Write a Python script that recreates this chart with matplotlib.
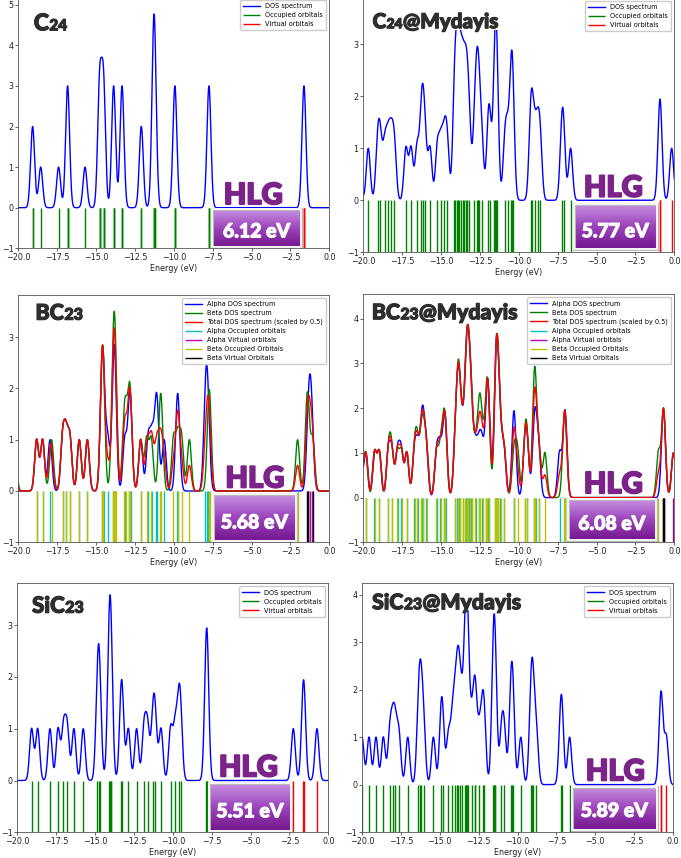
import numpy as np
import matplotlib
matplotlib.use("Agg")
import matplotlib.pyplot as plt
import matplotlib.patheffects as pe
from matplotlib.colors import LinearSegmentedColormap
from matplotlib.patches import Rectangle
from matplotlib.transforms import offset_copy

# orbital energies (eV); degenerate levels repeated
c24_occ = [-19.08, -19.08, -18.56, -17.41, -16.83, -16.83, -16.83, -15.71,
           -14.77, -14.77, -14.77, -14.52, -14.52, -14.52, -13.87, -13.87, -13.87,
           -13.33, -13.33, -13.33, -12.09, -12.09, -11.30, -11.30, -11.30,
           -11.22, -11.22, -9.93, -9.93, -9.93, -7.74, -7.74, -7.74]
c24_vir = [-1.63, -1.63, -1.63]

c24m_occ = [-20.30, -19.68, -19.08, -18.90, -18.62, -18.40, -18.20, -18.00,
            -17.26, -16.93, -16.55, -16.28, -16.18, -16.03, -15.71, -15.24,
            -15.00, -14.78, -14.60, -14.15, -14.10, -13.98, -13.90, -13.82,
            -13.70, -13.62, -13.50, -13.40, -13.30, -13.18, -12.86, -12.72,
            -12.65, -12.55, -12.38, -11.97, -11.86, -11.57, -11.50, -11.45,
            -11.40, -10.90, -10.72, -10.50, -10.44, -10.38, -9.24, -9.16,
            -8.97, -8.78, -8.62, -7.24, -7.12, -6.67]
c24m_vir = [-0.95, -0.89, -0.17]

bc_a_occ = [-18.82, -18.44, -17.96, -17.15, -16.93, -16.68, -16.08, -15.56,
            -14.64, -14.58, -14.52, -14.25, -13.88, -13.83, -13.78, -13.15,
            -12.86, -12.78, -12.13, -11.65, -11.40, -11.15, -11.05, -10.62,
            -9.79, -9.71, -7.99, -7.89, -7.79]
bc_a_vir = [-1.36, -1.24, -1.12]
bc_b_occ = [-20.24, -18.82, -18.44, -17.86, -17.15, -16.93, -16.68, -16.08,
            -15.56, -14.63, -14.58, -14.53, -13.92, -13.86, -13.80, -13.74,
            -13.21, -13.07, -12.85, -12.79, -12.13, -11.75, -11.45, -10.88,
            -10.80, -10.02, -9.75, -9.50, -9.00, -7.74, -7.70, -2.04]
bc_b_vir = [-1.45, -1.37, -1.07]

bcm_a_occ = [-20.20, -19.83, -19.28, -18.98, -18.40, -18.16, -17.80, -17.56,
             -17.21, -16.72, -16.50, -16.25, -16.15, -15.95, -15.28, -15.05,
             -14.80, -14.70, -14.08, -13.95, -13.86, -13.78, -13.60, -13.42,
             -13.34, -13.28, -13.22, -13.10, -13.02, -12.78, -12.55, -12.35,
             -12.08, -12.00, -11.92, -11.52, -11.46, -11.40, -11.34, -11.18,
             -10.95, -10.34, -10.28, -9.62, -9.45, -9.02, -8.92, -8.72,
             -7.38, -7.06, -7.00]
bcm_a_vir = [-0.72, -0.68, -0.06]
bcm_b_occ = [-20.18, -19.85, -19.26, -18.96, -18.38, -18.18, -17.82, -17.54,
             -17.19, -16.70, -16.52, -16.27, -16.13, -15.93, -15.30, -15.03,
             -14.82, -14.72, -14.10, -13.93, -13.88, -13.80, -13.62, -13.44,
             -13.36, -13.30, -13.24, -13.12, -13.04, -12.80, -12.57, -12.50,
             -12.33, -12.10, -12.02, -11.94, -11.50, -11.44, -11.38, -11.32,
             -11.16, -10.93, -10.31, -10.08, -9.60, -9.47, -9.04, -8.97,
             -8.94, -8.70, -8.32, -7.08, -7.02, -1.02]
bcm_b_vir = [-0.71, -0.67, -0.05]

sic_occ = [-19.08, -18.69, -17.90, -17.38, -17.03, -16.79, -16.36, -15.76,
           -14.85, -14.77, -14.69, -14.12, -14.06, -14.00, -13.96, -13.32,
           -13.26, -12.86, -12.33, -11.85, -11.62, -11.28, -11.13, -10.76,
           -10.14, -9.85, -9.62, -9.50, -7.85, -7.82, -7.79]
sic_vir = [-2.25, -1.62, -1.56, -0.73]

sicm_occ = [-20.00, -19.55, -19.10, -18.63, -18.22, -18.02, -17.85, -17.62,
            -17.06, -16.38, -16.28, -16.18, -16.03, -15.41, -14.92, -14.82,
            -14.45, -14.20, -14.05, -13.90, -13.82, -13.72, -13.58, -13.40,
            -13.32, -13.28, -13.24, -13.16, -12.95, -12.75, -12.71, -12.45,
            -12.24, -12.14, -11.58, -11.52, -11.47, -11.42, -11.03, -10.85,
            -10.45, -10.36, -10.28, -9.79, -9.15, -9.07, -8.98, -8.78,
            -7.22, -7.14, -6.65]
sicm_vir = [-0.80, -0.74, -0.43]

gaps = ["6.12 eV", "5.77 eV", "5.68 eV", "6.08 eV", "5.51 eV", "5.89 eV"]

FWHM = 0.3
energy = np.linspace(-20, 0, 2001)


def dos(levels):
    # gaussian broadening as GaussSum does it, one unit-height peak per orbital
    sigma = FWHM / (2 * np.sqrt(2 * np.log(2)))
    e = np.asarray(levels)[:, None]
    return np.exp(-(energy - e) ** 2 / (2 * sigma ** 2)).sum(axis=0)


W, H = 681, 858
fig = plt.figure(figsize=(W / 100, H / 100), dpi=100)
renderer = fig.canvas.get_renderer()
purple = LinearSegmentedColormap.from_list("hlg", ["#74168f", "#9c45bb", "#c892e2"])
TXT = 5.8
HEAVY = "Lato"


def fat(color, w=0.9):
    # thicken Lato Bold towards the heavy poster font
    return [pe.withStroke(linewidth=w, foreground=color)]


def make_ax(left, right, bottom, unit, ytop):
    top = bottom - (ytop + 1) * unit
    ax = fig.add_axes([left / W, 1 - bottom / H, (right - left) / W, (bottom - top) / H])
    ax.set_xlim(-20, 0)
    ax.set_ylim(-1, ytop)
    ax.set_xticks(np.arange(-20, 0.1, 2.5))
    ax.set_yticks(range(-1, int(ytop) + 1))
    ax.tick_params(labelsize=TXT, length=2, width=0.5, pad=1.5, colors="#222222")
    for s in ax.spines.values():
        s.set_linewidth(0.6)
        s.set_color("#555555")
    ax.set_xlabel("Energy (eV)", fontsize=TXT, labelpad=1.5, color="#222222")
    return ax


def closed(ax, occ, vir):
    ax.plot(energy, dos(occ + vir), color="b", lw=1.0, label="DOS spectrum")
    ax.vlines(occ, -1, 0, colors="g", lw=1.0, label="Occupied orbitals")
    ax.vlines(vir, -1, 0, colors="r", lw=1.0, label="Virtual orbitals")


def opened(ax, a_occ, a_vir, b_occ, b_vir):
    da = dos(a_occ + a_vir)
    db = dos(b_occ + b_vir)
    ax.plot(energy, da, color="b", lw=1.0, label="Alpha DOS spectrum")
    ax.plot(energy, db, color="g", lw=1.0, label="Beta DOS spectrum")
    ax.plot(energy, 0.5 * (da + db), color="r", lw=1.0,
            label="Total DOS spectrum (scaled by 0.5)")
    ax.vlines(a_occ, -1, 0, colors="c", lw=1.0, label="Alpha Occupied orbitals")
    ax.vlines(a_vir, -1, 0, colors="m", lw=1.0, label="Alpha Virtual orbitals")
    ax.vlines(b_occ, -1, 0, colors="y", lw=1.0, label="Beta Occupied Orbitals")
    ax.vlines(b_vir, -1, 0, colors="k", lw=1.0, label="Beta Virtual Orbitals")


def title(ax, x, y, parts, cover=None):
    # white patch behind the name hides the curve, as in the pasted figure
    if cover is not None:
        x0, x1, yc = cover
        ax.add_patch(Rectangle((x0, yc), x1 - x0, 10, fc="white", ec="none", zorder=2.2))
    dx = 0
    for s, size in parts:
        t = ax.text(x, y, s, fontsize=size, fontweight="black", family=HEAVY,
                    color="#2e2e2e", va="baseline", ha="left", zorder=6,
                    path_effects=fat("#2e2e2e"),
                    transform=offset_copy(ax.transData, fig=fig, x=dx, y=0, units="dots"))
        dx += t.get_window_extent(renderer).width + 0.5


def hlg(ax, box, hx, hy, ty, gap):
    x0, x1, y0, y1 = box
    grad = np.linspace(0, 1, 100)[:, None]
    ax.imshow(grad, extent=[x0, x1, y0, y1], origin="lower", cmap=purple,
              aspect="auto", zorder=4)
    ax.add_patch(Rectangle((x0, y0), x1 - x0, y1 - y0, fill=False, ec="#b8b8b8",
                           lw=2.2, zorder=4.4))
    ax.add_patch(Rectangle((x0, y0), x1 - x0, y1 - y0, fill=False, ec="white",
                           lw=1.2, zorder=4.5))
    ax.text(hx, hy, "HLG", fontsize=21, fontweight="black", family=HEAVY,
            color="#7b2389", ha="center", va="baseline", zorder=6,
            path_effects=fat("#7b2389", 1.4))
    ax.text((x0 + x1) / 2, ty, gap, fontsize=14, fontweight="black", family=HEAVY,
            color="white", ha="center", va="baseline", zorder=6,
            path_effects=fat("white", 0.8))
    ax.set_xlim(-20, 0)


leg = dict(loc="upper right", fontsize=4.7, handlelength=2.5, borderpad=0.5,
           labelspacing=0.45, handletextpad=0.8, framealpha=1)

# C24
ax = make_ax(18.3, 329.3, 248.3, 40.6, 5.2)
closed(ax, c24_occ, c24_vir)
ax.legend(**leg)
title(ax, -19.0, 4.37, [("C", 16.5), ("24", 11)])
hlg(ax, (-7.52, -1.82, -0.975, -0.04), -4.89, 0.09, -0.73, gaps[0])
ax.set_ylim(-1, 5.2)

# C24@Mydayis
ax = make_ax(363.3, 674.3, 252.3, 52.0, 3.9)
closed(ax, c24m_occ, c24m_vir)
ax.legend(**leg)
title(ax, -19.4, 3.31, [("C", 14.8), ("24", 9.8), ("@Mydayis", 14.8)], (-19.6, -11.3, 3.27))
hlg(ax, (-6.43, -1.14, -0.94, -0.07), -3.92, 0.07, -0.71, gaps[1])
ax.set_ylim(-1, 3.9)

# BC23
ax = make_ax(18.3, 329.3, 542.3, 51.3, 3.83)
opened(ax, bc_a_occ, bc_a_vir, bc_b_occ, bc_b_vir)
ax.legend(**leg)
title(ax, -18.9, 3.34, [("BC", 15.5), ("23", 11.5)])
hlg(ax, (-7.46, -2.16, -0.97, -0.065), -4.78, 0.07, -0.73, gaps[2])
ax.set_ylim(-1, 3.83)

# BC23@Mydayis
ax = make_ax(363.3, 674.3, 542.3, 44.7, 4.55)
opened(ax, bcm_a_occ, bcm_a_vir, bcm_b_occ, bcm_b_vir)
ax.legend(**leg)
title(ax, -19.45, 3.99, [("BC", 15.3), ("23", 11.2), ("@Mydayis", 15.3)], (-19.6, -10.3, 3.9))
hlg(ax, (-6.82, -1.2, -0.94, -0.04), -3.92, 0.1, -0.72, gaps[3])
ax.set_ylim(-1, 4.55)

# SiC23
ax = make_ax(17.3, 328.3, 832.3, 51.8, 3.81)
closed(ax, sic_occ, sic_vir)
ax.legend(**leg)
title(ax, -19.05, 3.24, [("SiC", 16), ("23", 11.5)])
hlg(ax, (-7.65, -2.4, -0.97, -0.045), -5.14, 0.08, -0.71, gaps[4])
ax.set_ylim(-1, 3.81)

# SiC23@Mydayis
ax = make_ax(362.0, 673.0, 832.0, 47.4, 4.25)
closed(ax, sicm_occ, sicm_vir)
ax.legend(**leg)
title(ax, -19.35, 3.7, [("SiC", 15.3), ("23", 11.2), ("@Mydayis", 15.3)], (-19.6, -10.0, 3.68))
hlg(ax, (-6.5, -1.03, -0.96, -0.05), -3.71, 0.09, -0.68, gaps[5])
ax.set_ylim(-1, 4.25)

fig.savefig("out.png", dpi=100)
